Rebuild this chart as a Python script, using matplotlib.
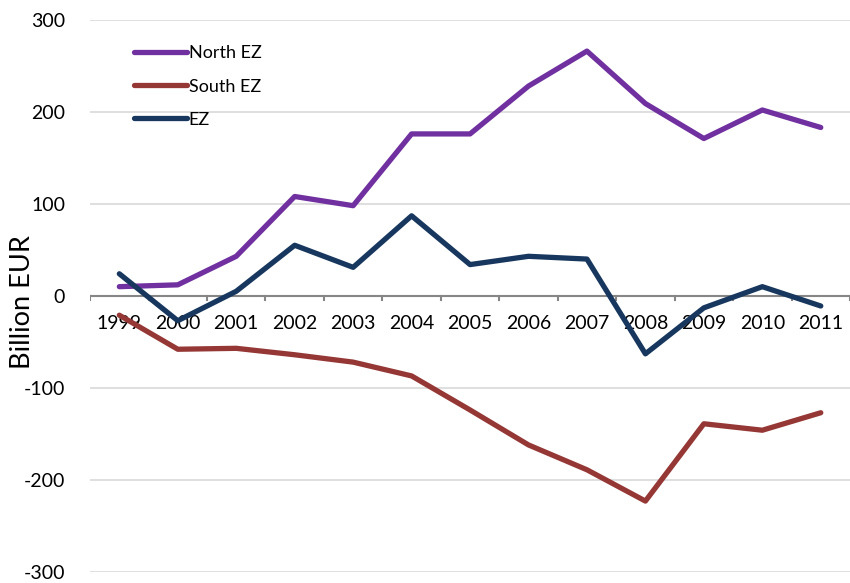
import numpy as np
import matplotlib
matplotlib.use("Agg")
import matplotlib.pyplot as plt
from matplotlib.transforms import offset_copy

plt.rcParams['font.family'] = ['Lato', 'DejaVu Sans']
plt.rcParams['axes.unicode_minus'] = False

years = ['1999', '2000', '2001', '2002', '2003', '2004', '2005',
         '2006', '2007', '2008', '2009', '2010', '2011']
north = [10, 12, 43, 108, 98, 176, 176, 228, 266, 209, 171, 202, 183]
south = [-21, -58, -57, -64, -72, -87, -124, -162, -189, -223, -139, -146, -127]
ez = [24, -27, 5, 55, 31, 87, 34, 43, 40, -63, -13, 10, -11]

fig = plt.figure(figsize=(8.5, 5.83), dpi=100)
ax = fig.add_axes([0.106, 0.019, 0.894, 0.947])

x = np.arange(len(years))
ax.plot(x, north, color='#7030A0', lw=3.8, label='North EZ', zorder=5, solid_capstyle='round')
ax.plot(x, south, color='#953735', lw=3.8, label='South EZ', zorder=5, solid_capstyle='round')
ax.plot(x, ez, color='#17375E', lw=3.8, label='EZ', zorder=6, solid_capstyle='round')

ax.set_xlim(-0.5, len(years) - 0.5)
ax.set_ylim(-300, 300)
ax.set_yticks(np.arange(-300, 301, 100))
ax.yaxis.grid(True, color='#D9D9D9', lw=1.2)
ax.set_axisbelow(True)
for s in ax.spines.values():
    s.set_visible(False)
ax.tick_params(axis='y', length=0, labelsize=14, pad=18)

# y label placed by hand so it stays inside the figure
fig.text(0.026, 0.482, 'Billion EUR', rotation=90, ha='center', va='center', fontsize=19.5)

# category axis at zero
ax.axhline(0, color='#868686', lw=1.5, zorder=2)
ax.set_xticks([])
for b in np.arange(-0.5, len(years)):
    ax.plot([b, b], [0, -5], color='#868686', lw=1.5, zorder=2)
lbl_trans = offset_copy(ax.transData, fig=fig, x=0, y=-20, units='points')
for i, yr in enumerate(years):
    ax.text(i, 0, yr, transform=lbl_trans, ha='center', va='center', fontsize=14, zorder=3)

ax.legend(loc='upper left', bbox_to_anchor=(0.037, 0.983), frameon=False, fontsize=13,
          handlelength=2.9, handletextpad=0.1, labelspacing=0.95)

fig.savefig('out.png', dpi=100)
